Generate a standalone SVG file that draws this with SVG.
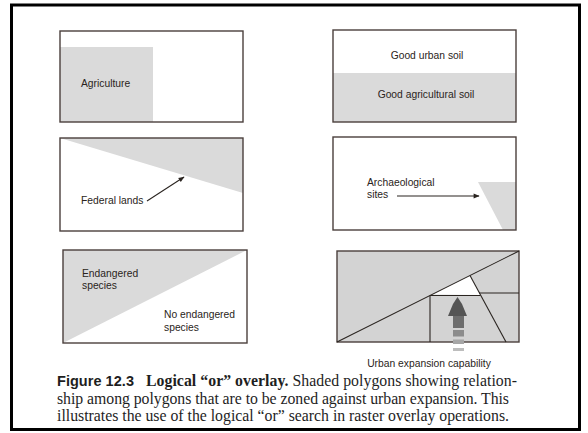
<svg xmlns="http://www.w3.org/2000/svg" width="588" height="433" viewBox="0 0 588 433">
<style>
.frame{fill:none;stroke:#4a3f3c;stroke-width:1.4}
.shade{fill:#dadada}
.shade2{fill:#d3d3d3}
.lbl{font-family:"Liberation Sans",Arial,sans-serif;font-size:10.3px;fill:#2a2420}
.ln{stroke:#2a2420;stroke-width:1.1;fill:none}
.cap{font-family:"Liberation Serif","Times New Roman",serif;font-size:15.8px;fill:#1e1e1e}
</style>
<defs>
<marker id="ah" viewBox="0 0 10 10" refX="9" refY="5" markerWidth="7" markerHeight="6" orient="auto" markerUnits="userSpaceOnUse">
<path d="M0,1 L10,5 L0,9 z" fill="#2a2420"/>
</marker>
</defs>
<rect x="0" y="0" width="588" height="433" fill="#ffffff"/>
<rect x="11.5" y="5" width="568" height="424.5" fill="none" stroke="#000" stroke-width="3"/>

<g id="agriculture">
<rect x="60" y="31" width="183" height="91" fill="#fff"/>
<rect class="shade" x="60" y="47" width="93" height="75"/>
<rect class="frame" x="60" y="31" width="183" height="91"/>
<text class="lbl" x="81" y="87">Agriculture</text>
</g>

<g id="soil">
<rect x="333" y="30" width="183" height="92" fill="#fff"/>
<rect class="shade" x="333" y="73" width="183" height="49"/>
<rect class="frame" x="333" y="30" width="183" height="92"/>
<text class="lbl" x="427" y="59" text-anchor="middle">Good urban soil</text>
<text class="lbl" x="426" y="98" text-anchor="middle">Good agricultural soil</text>
</g>

<g id="federal">
<rect x="60" y="138" width="183" height="93" fill="#fff"/>
<polygon class="shade" points="60,138 243,138 243,193"/>
<rect class="frame" x="60" y="138" width="183" height="93"/>
<text class="lbl" x="81" y="204">Federal lands</text>
</g>

<g id="archaeological">
<rect x="333" y="137" width="183" height="93" fill="#fff"/>
<polygon class="shade" points="478,182 516,182 516,230 503,230"/>
<rect class="frame" x="333" y="137" width="183" height="93"/>
<text class="lbl" x="367" y="186">Archaeological</text>
<text class="lbl" x="367" y="198">sites</text>
</g>

<g id="endangered">
<rect x="63" y="250" width="184" height="93" fill="#fff"/>
<polygon class="shade" points="63,250 247,250 63,343"/>
<rect class="frame" x="63" y="250" width="184" height="93"/>
<text class="lbl" x="82" y="277">Endangered</text>
<text class="lbl" x="82" y="289">species</text>
<text class="lbl" x="164" y="318">No endangered</text>
<text class="lbl" x="164" y="331">species</text>
</g>

<g id="urban-expansion">
<rect class="shade2" x="337" y="251" width="182" height="91"/>
<polygon points="432,294.5 470,275.5 480.5,295" fill="#fff"/>
<rect class="frame" x="337" y="251" width="182" height="91"/>
<line class="ln" x1="337" y1="342" x2="519" y2="251"/>
<line class="ln" x1="470" y1="275.5" x2="506" y2="342"/>
<line class="ln" x1="430" y1="295.5" x2="480.5" y2="295.5"/>
<line class="ln" x1="430" y1="295.5" x2="430" y2="342"/>
<line class="ln" x1="479" y1="293" x2="519" y2="293"/>
<polygon points="448,316 453,304 457.5,297 462,304 467,316" fill="#555"/>
<rect x="453" y="316" width="11" height="12" fill="#6e6e6e"/>
<rect x="453" y="330" width="11" height="6.5" fill="#8c8c8c"/>
<rect x="453" y="339.5" width="11" height="4.5" fill="#a6a6a6"/>
<rect x="453" y="348" width="11" height="3" fill="#bdbdbd"/>
<text class="lbl" x="429" y="367" text-anchor="middle">Urban expansion capability</text>
</g>

<g id="connectors">
<line class="ln" x1="147" y1="201" x2="184" y2="177" marker-end="url(#ah)"/>
<line class="ln" x1="397" y1="196" x2="479" y2="196" marker-end="url(#ah)"/>
</g>

<g id="caption">
<text class="cap" x="57" y="386" textLength="460" lengthAdjust="spacing"><tspan font-family="'Liberation Sans',Arial,sans-serif" font-weight="bold" font-size="14.5px">Figure 12.3</tspan><tspan dx="12" font-weight="bold">Logical “or” overlay.</tspan> Shaded polygons showing relation-</text>
<text class="cap" x="57" y="403.5" textLength="452" lengthAdjust="spacing">ship among polygons that are to be zoned against urban expansion. This</text>
<text class="cap" x="57" y="421" textLength="452" lengthAdjust="spacing">illustrates the use of the logical “or” search in raster overlay operations.</text>
</g>
</svg>
